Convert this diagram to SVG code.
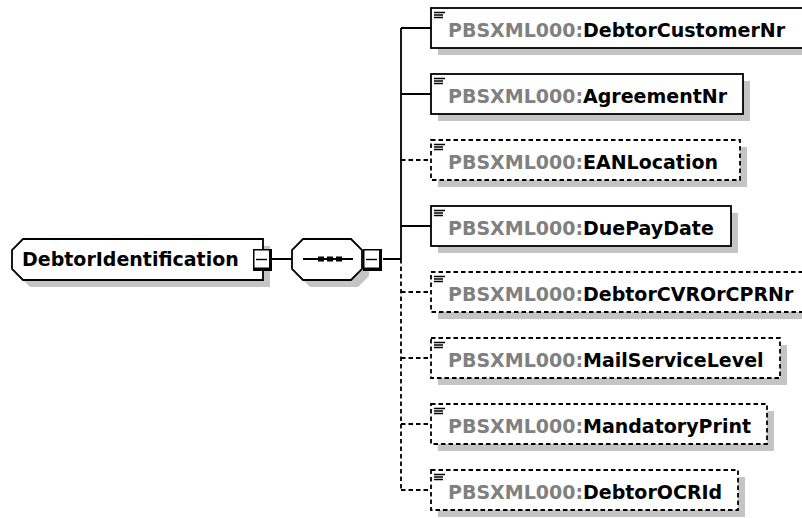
<svg xmlns="http://www.w3.org/2000/svg" width="802" height="518" viewBox="0 0 802 518">
<style>
text{font-family:"DejaVu Sans","Liberation Sans",sans-serif;font-weight:bold;font-size:19px;fill:#000}
.pfx{fill:#808080}
.box{fill:#fff;stroke:#000;stroke-width:1.8}
.opt{stroke-dasharray:4.5 3}
.sh{fill:#c4c4c4}
.ic{stroke:#000;stroke-width:1.4}
.conn{stroke:#000;stroke-width:1.8;fill:none}
.dash{stroke-dasharray:4.5 3}
</style>
<rect width="802" height="518" fill="#fff"/>
<g id="connectors">
<path class="conn" d="M272 259H292M383 259H401M401 28V259M401 28H431M401 94H431M401 226H431"/>
<path class="conn dash" d="M401 259V490M401 160H431M401 292H431M401 358H431M401 424H431M401 490H431"/>
</g>
<g id="DebtorIdentification">
<polygon class="sh" points="30,246 270,246 270,287 30,287 19,276 19,257"/>
<polygon class="box" points="23,239 263,239 263,280 23,280 12,269 12,250"/>
<text x="22" y="266">DebtorIdentification</text>
<rect x="253" y="249" width="19" height="22" fill="#000"/>
<rect x="254.5" y="250.5" width="14.5" height="17" fill="#fff"/>
<line x1="256" y1="259.5" x2="267" y2="259.5" class="ic"/>
</g>
<g id="sequence">
<polygon class="sh" points="310,246 358,246 369,257 369,276 358,287 310,287 299,276 299,257"/>
<polygon class="box" points="303,239 351,239 362,250 362,269 351,280 303,280 292,269 292,250"/>
<line x1="303" y1="259" x2="353" y2="259" class="conn"/>
<rect x="318" y="256.5" width="6" height="5" fill="#000"/>
<rect x="327" y="256.5" width="6" height="5" fill="#000"/>
<rect x="336" y="256.5" width="6" height="5" fill="#000"/>
<rect x="363" y="249" width="19" height="22" fill="#000"/>
<rect x="364.5" y="250.5" width="14.5" height="17" fill="#fff"/>
<line x1="366" y1="259.5" x2="377" y2="259.5" class="ic"/>
</g>
<g id="DebtorCustomerNr">
<rect class="sh" x="438" y="15" width="380" height="40"/>
<rect class="box" x="431" y="8" width="380" height="40"/>
<path class="ic" d="M434 12.5H445M434 15H443M434 17.5H443"/>
<text x="448" y="36.5"><tspan class="pfx">PBSXML000:</tspan>DebtorCustomerNr</text>
</g>
<g id="AgreementNr">
<rect class="sh" x="438" y="81" width="312" height="40"/>
<rect class="box" x="431" y="74" width="312" height="40"/>
<path class="ic" d="M434 78.5H445M434 81H443M434 83.5H443"/>
<text x="448" y="102.5"><tspan class="pfx">PBSXML000:</tspan>AgreementNr</text>
</g>
<g id="EANLocation">
<rect class="sh" x="438" y="147" width="309" height="40"/>
<rect class="box opt" x="431" y="140" width="309" height="40"/>
<path class="ic" d="M434 144.5H445M434 147H443M434 149.5H443"/>
<text x="448" y="168.5"><tspan class="pfx">PBSXML000:</tspan>EANLocation</text>
</g>
<g id="DuePayDate">
<rect class="sh" x="438" y="213" width="300" height="40"/>
<rect class="box" x="431" y="206" width="300" height="40"/>
<path class="ic" d="M434 210.5H445M434 213H443M434 215.5H443"/>
<text x="448" y="234.5"><tspan class="pfx">PBSXML000:</tspan>DuePayDate</text>
</g>
<g id="DebtorCVROrCPRNr">
<rect class="sh" x="438" y="279" width="380" height="40"/>
<rect class="box opt" x="431" y="272" width="380" height="40"/>
<path class="ic" d="M434 276.5H445M434 279H443M434 281.5H443"/>
<text x="448" y="300.5"><tspan class="pfx">PBSXML000:</tspan>DebtorCVROrCPRNr</text>
</g>
<g id="MailServiceLevel">
<rect class="sh" x="438" y="345" width="349" height="40"/>
<rect class="box opt" x="431" y="338" width="349" height="40"/>
<path class="ic" d="M434 342.5H445M434 345H443M434 347.5H443"/>
<text x="448" y="366.5"><tspan class="pfx">PBSXML000:</tspan>MailServiceLevel</text>
</g>
<g id="MandatoryPrint">
<rect class="sh" x="438" y="411" width="336" height="40"/>
<rect class="box opt" x="431" y="404" width="336" height="40"/>
<path class="ic" d="M434 408.5H445M434 411H443M434 413.5H443"/>
<text x="448" y="432.5"><tspan class="pfx">PBSXML000:</tspan>MandatoryPrint</text>
</g>
<g id="DebtorOCRId">
<rect class="sh" x="438" y="477" width="307" height="40"/>
<rect class="box opt" x="431" y="470" width="307" height="40"/>
<path class="ic" d="M434 474.5H445M434 477H443M434 479.5H443"/>
<text x="448" y="498.5"><tspan class="pfx">PBSXML000:</tspan>DebtorOCRId</text>
</g>
</svg>
